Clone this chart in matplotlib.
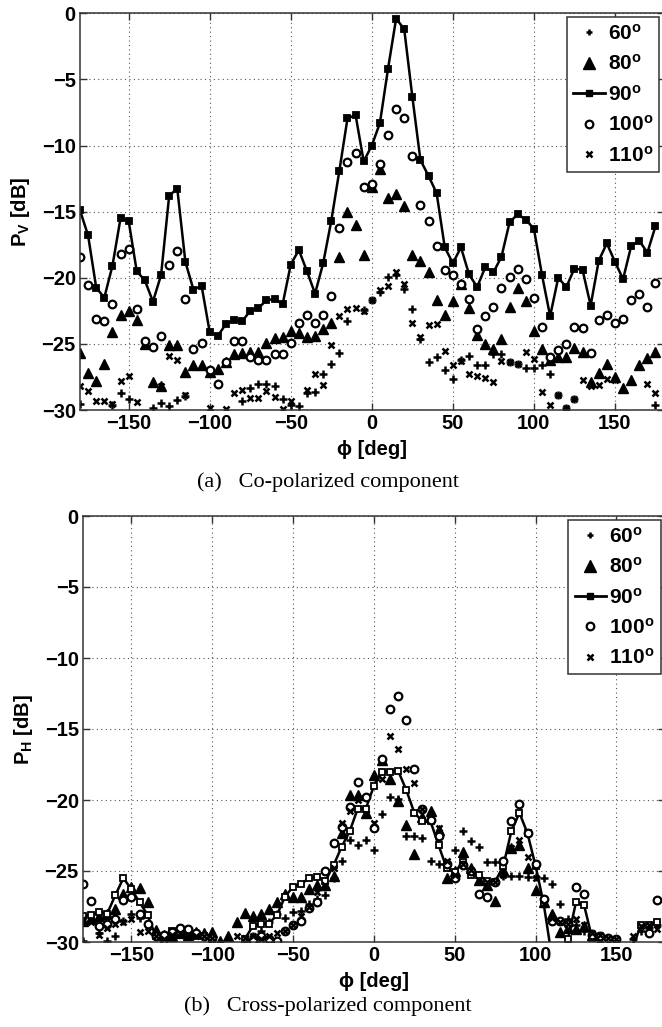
import numpy as np
import matplotlib
matplotlib.use("Agg")
import matplotlib.pyplot as plt
from matplotlib.lines import Line2D

nan = np.nan

# azimuth angles [deg]
phi = np.arange(-180, 180, 5)

# ---- (a) co-polarized power P_V [dB] for elevation 60/80/90/100/110 deg ----
co_60 = [-29.55, nan, nan, nan, -29.6, -28.7, -29.2, nan, nan, -29.85,
         -29.45, -29.7, -29.25, -28.95, nan, nan, nan, nan, nan, nan,
         -29.35, -28.35, -28.05, -28.0, -28.2, -29.15, -29.6, -29.7, -28.75, -28.65,
         -27.25, -26.5, -25.7, -23.25, nan, -22.4, -21.7, -21.05, -19.95, -19.8,
         -20.85, -22.35, -24.6, -26.35, -26.0, -27.0, -27.65, -26.25, -25.9, -26.6,
         -26.6, -25.75, -25.75, -26.4, -26.55, -26.8, -26.85, -26.6, -27.25, -28.9,
         -29.85, -29.2, nan, nan, nan, nan, nan, nan, nan, nan,
         nan, -29.65]
co_80 = [-25.7, -27.2, -27.8, -26.5, -24.1, -22.8, -22.5, -23.2, -25.0, -27.9,
         -28.2, -25.1, -25.05, -27.15, -26.6, -26.6, -27.15, -26.9, -26.4, -25.75,
         -25.7, -25.6, -25.6, -24.95, -24.55, -24.5, -24.0, -24.2, -24.45, -24.4,
         -23.85, -23.4, -18.4, -15.05, -16.0, -18.3, -13.1, -11.75, -14.0, -13.65,
         -14.6, -18.3, -18.7, -19.55, -21.65, -22.8, -21.75, -20.5, -22.25, -24.35,
         -25.0, -25.4, -24.65, -22.2, -20.75, -21.75, -24.0, -25.4, -26.2, -26.0,
         -26.0, -25.3, -25.6, -27.85, -27.2, -26.5, -27.5, -28.3, -27.75, -26.6,
         -26.05, -25.65]
co_90 = [-14.9, -16.8, -20.75, -21.5, -19.1, -15.5, -15.7, -19.5, -20.2, -21.8,
         -19.8, -13.8, -13.25, -18.8, -20.9, -20.6, -24.1, -24.4, -23.5, -23.2,
         -23.3, -22.5, -22.3, -21.7, -21.6, -22.0, -19.0, -17.9, -19.5, -21.2,
         -18.9, -15.7, -11.9, -7.95, -7.7, -11.2, -10.0, -8.3, -4.2, -0.4,
         -1.2, -6.3, -11.1, -12.3, -13.6, -17.7, -18.9, -17.7, -19.75, -20.7,
         -19.2, -19.6, -18.4, -15.8, -15.2, -15.6, -16.3, -19.8, -22.9, -20.0,
         -20.7, -19.3, -19.4, -22.1, -18.7, -17.4, -18.8, -20.1, -17.6, -17.2,
         -18.1, -16.1]
co_100 = [-18.4, -20.55, -23.1, -23.3, -22.0, -18.2, -17.8, -22.35, -24.8, -25.25,
          -24.4, -19.0, -18.0, -21.6, -25.4, -24.9, -26.95, -28.0, -26.4, -24.8,
          -24.8, -26.0, -26.2, -26.2, -25.8, -25.8, -24.9, -23.4, -22.85, -23.4,
          -22.85, -21.35, -16.2, -11.25, -10.55, -13.1, -12.9, -11.4, -9.2, -7.2,
          -7.9, -10.8, -14.5, -15.7, -17.6, -19.45, -19.8, -20.45, -21.6, -23.9,
          -22.9, -22.2, -20.8, -19.95, -19.3, -20.1, -21.5, -23.7, -26.0, -25.5,
          -25.0, -23.7, -23.8, -25.7, -23.2, -22.85, -23.4, -23.1, -21.7, -21.2,
          -22.2, -20.4]
co_110 = [-28.2, -28.6, -29.3, -29.3, -29.55, -27.8, -27.4, -29.4, nan, nan,
          -28.2, -25.9, -26.2, -28.9, nan, nan, -29.85, nan, -29.9, -28.75,
          -28.45, -29.1, -29.1, -28.55, -29.0, -29.95, -29.3, nan, -28.5, -27.3,
          -28.1, -25.05, -22.9, -22.35, -22.3, -22.5, -21.7, -20.95, -20.65, -19.6,
          -20.5, -23.4, -24.5, -23.55, -23.5, -25.55, -26.6, -26.3, -27.25, -27.45,
          -27.6, -27.85, -26.3, -26.4, -26.5, -25.6, -26.15, -28.65, -29.6, -28.9,
          -29.85, -29.2, -27.75, -28.2, -28.1, -27.65, -27.75, nan, nan, nan,
          -28.0, -28.7]

# ---- (b) cross-polarized power P_H [dB] ----
cx_60 = [-29.9, nan, -29.4, -29.9, -29.6, -28.5, -28.0, -28.3, -28.8, -29.5,
         -29.6, -29.3, -29.1, -29.2, -29.4, -29.6, -29.8, nan, nan, nan,
         nan, -29.6, -29.2, -28.6, -28.0, -28.3, -27.9, -27.8, -27.3, -27.0,
         -26.7, -25.5, -24.3, -22.8, -23.2, -22.8, -23.5, -21.0, -19.8, -19.95,
         -22.5, -22.5, -22.7, -24.3, -24.5, -24.6, -23.5, -22.2, -22.9, -23.3,
         -24.35, -24.4, -25.35, -25.35, -25.35, -25.4, -25.4, -25.5, -25.9, -27.3,
         -28.4, -28.8, -29.2, -29.4, -29.6, -29.8, nan, nan, -29.8, -29.2,
         -29.0, -28.8]
cx_80 = [-28.5, -28.3, -28.2, -28.0, -27.7, -26.6, -26.1, -26.2, -27.2, -29.15,
         -29.5, -29.6, -29.4, -29.5, -29.3, -29.4, -29.3, -29.9, -29.6, -28.6,
         -27.95, -28.2, -28.0, -27.7, -27.2, -26.6, -26.8, -26.8, -26.3, -26.0,
         -26.0, -25.35, -22.3, -19.65, -19.65, -20.9, -18.25, -17.2, -18.5, -20.1,
         -21.75, -23.8, -21.2, -20.75, -22.1, -25.5, -25.0, -23.65, -24.8, -25.6,
         -26.0, -27.1, -24.9, -23.4, -23.2, -24.8, -26.35, -27.2, -28.0, -29.3,
         -29.0, -29.05, -28.9, -29.5, -29.9, nan, nan, nan, nan, nan,
         nan, nan]
cx_90 = [-28.15, -28.1, -27.9, -28.0, -26.7, -25.5, -26.3, -27.2, -28.1, -29.6,
         -29.9, -29.2, -29.4, -29.4, -29.6, -29.6, -29.8, -30.5, -31.0, -30.5,
         -29.8, -28.9, -28.7, -28.7, -28.1, -26.8, -26.1, -25.9, -25.5, -25.4,
         -25.7, -24.6, -23.3, -22.2, -20.6, -20.6, -19.0, -18.0, -18.0, -17.95,
         -19.3, -20.9, -21.5, -21.5, -23.2, -24.8, -25.1, -24.35, -25.3, -25.3,
         -25.7, -25.75, -24.65, -22.2, -20.9, -22.35, -24.65, -27.3, -31.0, -31.0,
         -29.8, -27.2, -27.4, -29.75, -31.0, -31.0, -31.0, -31.0, -30.5, -28.8,
         -28.8, -28.6]
cx_100 = [-25.9, -27.1, -28.9, -28.7, -28.4, -27.05, -26.8, -28.0, -28.7, -29.6,
          -29.5, -29.3, -29.0, -29.1, -29.4, -29.6, -29.7, nan, nan, nan,
          nan, -29.85, -29.6, -29.8, -29.9, -29.2, -28.8, -28.5, -27.6, -27.2,
          -25.0, -23.05, -21.9, -20.5, -18.7, -19.8, -22.0, -17.1, -13.6, -12.7,
          -14.4, -17.8, -20.6, -21.4, -22.5, -24.5, -25.5, -24.6, -25.0, -26.6,
          -26.8, -25.8, -24.3, -21.5, -20.3, -22.35, -24.5, -27.0, -28.5, -28.5,
          -28.7, -26.15, -26.6, -29.5, -29.6, -29.7, -29.8, nan, nan, nan,
          -29.4, -27.05]
cx_110 = [-28.4, -28.6, -29.5, -29.0, -28.7, -28.6, -28.4, -29.3, -29.2, -29.6,
          -29.8, -29.5, -29.4, -29.5, -29.6, -29.6, -29.7, nan, nan, -29.6,
          -29.7, -29.6, -29.8, -29.6, -29.4, -29.2, -28.8, -28.2, -27.5, -26.5,
          -26.0, -24.8, -21.6, -20.8, -20.0, -21.0, -21.6, -18.5, -15.5, -16.4,
          -17.8, -18.8, -20.6, -21.0, -22.0, -24.3, -25.3, -24.5, -24.9, -25.6,
          -25.8, -25.8, -25.3, -23.4, -22.8, -24.0, -25.5, -27.3, -28.3, -28.6,
          -28.7, -28.4, -28.8, -29.4, -29.5, -29.7, -29.8, nan, -29.6, -28.9,
          -28.8, -29.1]

labels = ["60", "80", "90", "100", "110"]
x_ticks = [-150, -100, -50, 0, 50, 100, 150]
y_ticks = [-30, -25, -20, -15, -10, -5, 0]

plt.rcParams["font.family"] = ["Liberation Sans", "DejaVu Sans"]
plt.rcParams["mathtext.fontset"] = "custom"
plt.rcParams["mathtext.rm"] = "Liberation Sans:bold"
plt.rcParams["mathtext.bf"] = "Liberation Sans:bold"
plt.rcParams["mathtext.it"] = "Liberation Sans:bold"

FS = 14.5
EDGE = "#333333"

fig = plt.figure(figsize=(6.62, 10.27), dpi=100)


def style_axes(ax, ylab):
    ax.set_xlim(-180, 180)
    ax.set_ylim(-30, 0)
    ax.set_xticks(x_ticks)
    ax.set_yticks(y_ticks)
    ax.tick_params(direction="in", length=5, width=1, colors=EDGE,
                   top=True, right=True, labelsize=FS, pad=3)
    for t in ax.get_xticklabels() + ax.get_yticklabels():
        t.set_fontweight("bold")
        t.set_color("black")
    for s in ax.spines.values():
        s.set_color(EDGE)
        s.set_linewidth(1.1)
    ax.grid(True, linestyle=(0, (1, 3)), color="#555555", linewidth=0.8)
    ax.set_axisbelow(True)
    ax.set_xlabel("\u03d5 [deg]", fontsize=FS, fontweight="bold", labelpad=5)
    ax.set_ylabel(ylab, fontsize=FS, fontweight="bold", labelpad=7)


def draw(ax, s60, s80, s90, s100, s110, square_face):
    ax.plot(phi, s60, linestyle="none", marker="+", ms=5.5, mew=1.8, color="k")
    ax.plot(phi, s80, linestyle="none", marker="^", ms=7.5, color="k",
            mec="k")
    ax.plot(phi, s90, "-", marker="s", ms=5, lw=1.8, color="k",
            mfc=square_face, mec="k", mew=1.3)
    ax.plot(phi, s100, linestyle="none", marker="o", ms=5.5, mew=1.6,
            mfc="white", mec="k")
    ax.plot(phi, s110, linestyle="none", marker="x", ms=4.5, mew=1.8, color="k")

    handles = [
        Line2D([], [], linestyle="none", marker="+", ms=5, mew=1.8, color="k"),
        Line2D([], [], linestyle="none", marker="^", ms=8, color="k"),
        Line2D([], [], linestyle="-", marker="s", ms=4.5, lw=2, color="k"),
        Line2D([], [], linestyle="none", marker="o", ms=5.5, mew=1.6,
               mfc="white", mec="k"),
        Line2D([], [], linestyle="none", marker="x", ms=4.5, mew=1.8, color="k"),
    ]
    names = [r"$\mathbf{%s^{o}}$" % l for l in labels]
    leg = ax.legend(handles, names, loc="upper right", fontsize=FS + 0.5,
                    frameon=True, fancybox=False, handlelength=1.5,
                    handletextpad=0.15, labelspacing=0.5, borderpad=0.3,
                    borderaxespad=0.2, framealpha=1)
    leg.get_frame().set_edgecolor(EDGE)
    leg.get_frame().set_linewidth(1.1)


# (a) co-polarized component
ax1 = fig.add_axes([80 / 662, 1 - 410 / 1027, 583.6 / 662, 396.7 / 1027])
draw(ax1, co_60, co_80, co_90, co_100, co_110, "black")
style_axes(ax1, r"$\mathbf{P_V}$ [dB]")

# (b) cross-polarized component
ax2 = fig.add_axes([83 / 662, 1 - 942 / 1027, 581.9 / 662, 426 / 1027])
draw(ax2, cx_60, cx_80, cx_90, cx_100, cx_110, "white")
style_axes(ax2, r"$\mathbf{P_H}$ [dB]")

fig.text(328 / 662, 1 - 482 / 1027, "(a)   Co-polarized component",
         ha="center", va="center", fontsize=16, family="Liberation Serif")
fig.text(328 / 662, 1 - 1006 / 1027, "(b)   Cross-polarized component",
         ha="center", va="center", fontsize=16, family="Liberation Serif")

fig.savefig("out.png", dpi=100)
